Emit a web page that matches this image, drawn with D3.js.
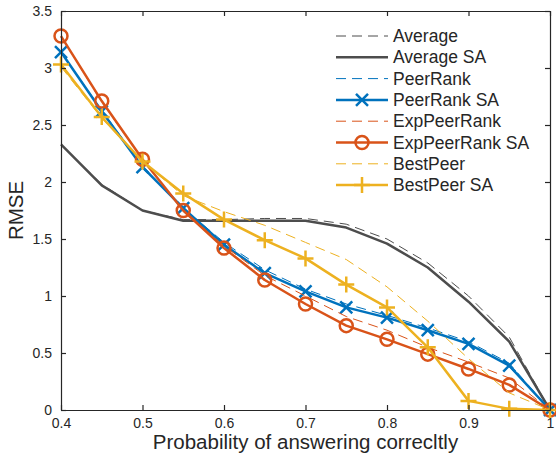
<!DOCTYPE html>
<html>
<head>
<meta charset="utf-8">
<script src="https://cdn.jsdelivr.net/npm/d3@7"></script>
<style>
  body { margin: 0; background: #fff; }
  text { font-family: "Liberation Sans", Arial, sans-serif; fill: #262626; }
</style>
</head>
<body>
<div class="chart"></div>
<script>
// data
const probs = [0.4, 0.45, 0.5, 0.55, 0.6, 0.65, 0.7, 0.75, 0.8, 0.85, 0.9, 0.95, 1.0];
const average      = [2.33, 1.98, 1.75, 1.67, 1.67, 1.68, 1.68, 1.63, 1.50, 1.29, 1.00, 0.64, 0];
const averageSA    = [2.33, 1.97, 1.75, 1.66, 1.66, 1.66, 1.66, 1.60, 1.46, 1.25, 0.95, 0.60, 0];
const peerRank     = [3.14, 2.63, 2.14, 1.77, 1.47, 1.23, 1.06, 0.93, 0.83, 0.72, 0.60, 0.41, 0];
const peerRankSA   = [3.14, 2.62, 2.13, 1.77, 1.45, 1.20, 1.04, 0.90, 0.81, 0.70, 0.58, 0.39, 0];
const expPeer      = [3.28, 2.70, 2.20, 1.75, 1.44, 1.18, 1.00, 0.82, 0.70, 0.55, 0.42, 0.28, 0];
const expPeerSA    = [3.28, 2.71, 2.20, 1.75, 1.42, 1.14, 0.93, 0.74, 0.62, 0.49, 0.36, 0.22, 0];
const bestPeer     = [3.01, 2.56, 2.18, 1.88, 1.74, 1.62, 1.47, 1.32, 1.08, 0.78, 0.45, 0.15, 0];
const bestPeerSA   = [3.03, 2.57, 2.18, 1.90, 1.67, 1.49, 1.33, 1.10, 0.90, 0.55, 0.08, 0.01, 0];
const xTicks = [0.4, 0.5, 0.6, 0.7, 0.8, 0.9, 1];
const yTicks = [0, 0.5, 1, 1.5, 2, 2.5, 3, 3.5];

const series = [
  {name: "Average",         vals: average,    color: "#4d4d4d", dash: true},
  {name: "Average SA",      vals: averageSA,  color: "#4d4d4d", dash: false, marker: null},
  {name: "PeerRank",        vals: peerRank,   color: "#0072bd", dash: true},
  {name: "PeerRank SA",     vals: peerRankSA, color: "#0072bd", dash: false, marker: "x"},
  {name: "ExpPeerRank",     vals: expPeer,    color: "#d95319", dash: true},
  {name: "ExpPeerRank SA",  vals: expPeerSA,  color: "#d95319", dash: false, marker: "o"},
  {name: "BestPeer",        vals: bestPeer,   color: "#edb120", dash: true},
  {name: "BestPeer SA",     vals: bestPeerSA, color: "#edb120", dash: false, marker: "+"}
];

const W = 556, H = 456;
const margin = {top: 11, right: 6, bottom: 46, left: 61};
const width = W - margin.left - margin.right,
      height = H - margin.top - margin.bottom;

const svg = d3.select('.chart').append('svg')
    .attr('width', W).attr('height', H)
    .append('g')
    .attr('transform', `translate(${margin.left},${margin.top})`);

const x = d3.scaleLinear().domain([0.4, 1]).range([0, width]);
const y = d3.scaleLinear().domain([0, 3.5]).range([height, 0]);

const line = d3.line().x((d, i) => x(probs[i])).y(d => y(d));

// markers
function drawMarker(g, type, color) {
  if (type === "x") {
    g.append("path").attr("d", "M-6,-6L6,6M-6,6L6,-6")
      .attr("stroke", color).attr("stroke-width", 2.5).attr("fill", "none");
  } else if (type === "o") {
    g.append("circle").attr("r", 6.5)
      .attr("stroke", color).attr("stroke-width", 2.5).attr("fill", "none");
  } else if (type === "+") {
    g.append("path").attr("d", "M-8,0L8,0M0,-8L0,8")
      .attr("stroke", color).attr("stroke-width", 2.5).attr("fill", "none");
  }
}

const plot = svg.append("g");
series.forEach(s => {
  plot.append("path")
    .datum(s.vals)
    .attr("fill", "none")
    .attr("stroke", s.color)
    .attr("stroke-width", s.dash ? 1 : 2.5)
    .attr("stroke-dasharray", s.dash ? "10,6" : null)
    .attr("stroke-linejoin", "round")
    .attr("d", line);
  if (s.marker) {
    s.vals.forEach((v, i) => {
      const g = plot.append("g").attr("transform", `translate(${x(probs[i])},${y(v)})`);
      drawMarker(g, s.marker, s.color);
    });
  }
});

// axes with ticks pointing inward
const axisColor = "#262626";
svg.append("g")
  .attr("transform", `translate(0,${height})`)
  .call(d3.axisBottom(x).tickValues(xTicks).tickSizeInner(-5).tickSizeOuter(0).tickPadding(8).tickFormat(d3.format("")))
  .call(g => g.selectAll("text").attr("font-size", 14).attr("fill", axisColor));
svg.append("g")
  .call(d3.axisLeft(y).tickValues(yTicks).tickSizeInner(-5).tickSizeOuter(0).tickPadding(9).tickFormat(d3.format("")))
  .call(g => g.selectAll("text").attr("font-size", 14).attr("fill", axisColor));
svg.append("g")
  .call(d3.axisTop(x).tickValues(xTicks).tickSizeInner(-5).tickSizeOuter(0).tickFormat(""));
svg.append("g")
  .attr("transform", `translate(${width},0)`)
  .call(d3.axisRight(y).tickValues(yTicks).tickSizeInner(-5).tickSizeOuter(0).tickFormat(""));
svg.selectAll(".domain, .tick line").attr("stroke", axisColor).attr("stroke-width", 1.2);

// axis titles
svg.append("text")
  .attr("x", width / 2).attr("y", height + 39)
  .attr("text-anchor", "middle").attr("font-size", 20.5)
  .text("Probability of answering correcltly");
svg.append("text")
  .attr("transform", `translate(${-38},${height / 2}) rotate(-90)`)
  .attr("text-anchor", "middle").attr("font-size", 20.5)
  .text("RMSE");

// legend
const legend = svg.append("g").attr("transform", `translate(${336 - margin.left},${36 - margin.top})`);
series.forEach((s, i) => {
  const row = legend.append("g").attr("transform", `translate(0,${i * 21.3})`);
  row.append("line")
    .attr("x1", 0).attr("x2", 52).attr("y1", 0).attr("y2", 0)
    .attr("stroke", s.color)
    .attr("stroke-width", s.dash ? 1 : 2.5)
    .attr("stroke-dasharray", s.dash ? "10,6" : null);
  if (s.marker) {
    const g = row.append("g").attr("transform", "translate(26,0)");
    drawMarker(g, s.marker, s.color);
  }
  row.append("text")
    .attr("x", 57).attr("y", 0).attr("dy", "0.35em")
    .attr("font-size", 17.5)
    .text(s.name);
});
</script>
</body>
</html>
